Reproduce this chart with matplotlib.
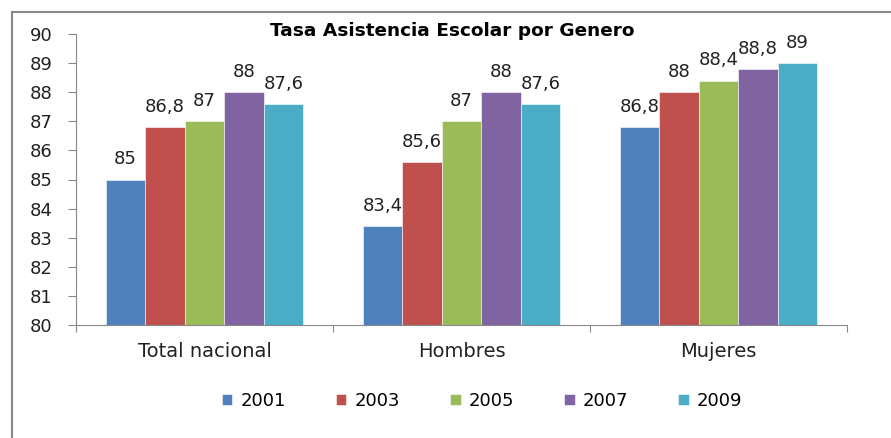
import numpy as np
import matplotlib
matplotlib.use("Agg")
import matplotlib.pyplot as plt
from matplotlib.lines import Line2D

plt.rcParams['font.family'] = ['DejaVu Sans']

categories = ['Total nacional', 'Hombres', 'Mujeres']
years = ['2001', '2003', '2005', '2007', '2009']
values = [
    [85.0, 83.4, 86.8],   # 2001
    [86.8, 85.6, 88.0],   # 2003
    [87.0, 87.0, 88.4],   # 2005
    [88.0, 88.0, 88.8],   # 2007
    [87.6, 87.6, 89.0],   # 2009
]
colors = ['#4F81BD', '#C0504D', '#9BBB59', '#8064A2', '#4BACC6']

fig = plt.figure(figsize=(8.91, 4.38), dpi=100)
ax = fig.add_axes([76/891, 1-325/438, 771/891, 291/438])

n = len(years)
bw = 1/6.5
x = np.arange(len(categories))

for i in range(n):
    xs = x - 2*bw + i*bw
    ax.bar(xs, values[i], bw, bottom=0, color=colors[i], label=years[i],
           edgecolor='white', linewidth=0.4, zorder=2)
    for xi, v in zip(xs, values[i]):
        lab = ('%g' % v).replace('.', ',')
        ax.annotate(lab, (xi, v), xytext=(0, 8), textcoords='offset points',
                    ha='center', va='bottom', fontsize=13, color='#222222')

ax.set_ylim(80, 90)
ax.set_xlim(-0.5, len(categories) - 0.5)
ax.set_yticks(range(80, 91))
ax.tick_params(axis='y', labelsize=13, length=6, color='#888888', pad=11,
               labelcolor='#222222')
ax.set_xticks(np.arange(len(categories) + 1) - 0.5)
ax.set_xticklabels([])
ax.tick_params(axis='x', length=5, color='#888888')
for xi, c in zip(x, categories):
    ax.text(xi, -0.09, c, transform=ax.get_xaxis_transform(), ha='center',
            va='center', fontsize=14, color='#222222')

for s in ['top', 'right']:
    ax.spines[s].set_visible(False)
for s in ['left', 'bottom']:
    ax.spines[s].set_color('#888888')

fig.text(452/891, 1-31/438, 'Tasa Asistencia Escolar por Genero', ha='center',
         va='center', fontsize=13.3, fontweight='bold')

fig.legend(loc='center', bbox_to_anchor=(482/891, 1-401/438), ncol=5,
           frameon=False, fontsize=13, handlelength=0.6, handleheight=0.6,
           handletextpad=0.45, columnspacing=2.75)

# outer frame (left and top edges visible)
fig.add_artist(Line2D([12/891, 12/891], [0, 1-12/438], transform=fig.transFigure,
                      color='#888888', lw=1.5))
fig.add_artist(Line2D([12/891, 1], [1-12/438, 1-12/438], transform=fig.transFigure,
                      color='#888888', lw=1.5))

fig.savefig('out.png', dpi=100)
